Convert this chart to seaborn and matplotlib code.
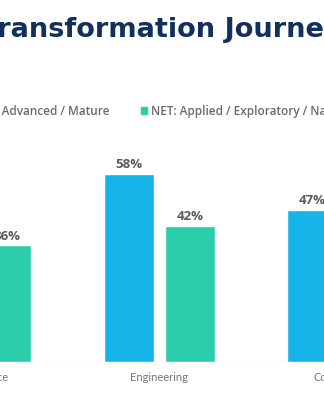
import matplotlib
matplotlib.use("Agg")
import matplotlib.pyplot as plt
import matplotlib.patches as mpatches
import pandas as pd
import seaborn as sns

# Survey shares by department (percent of respondents)
departments = ["Data Science", "Engineering", "Compliance"]
stages = ["NET: Advanced / Mature", "NET: Applied / Exploratory / Nascent"]
advanced_mature = [64, 58, 47]
applied_exploratory = [36, 42, 53]
title = "AI Transformation Journey"

colors = ["#17b4e9", "#2ccdab"]

sns.set_style("white")
plt.rcParams["font.family"] = ["DejaVu Sans"]

df = pd.DataFrame({
    "Department": departments * 2,
    "Stage": [stages[0]] * len(departments) + [stages[1]] * len(departments),
    "Share": advanced_mature + applied_exploratory,
})

W, H = 324, 400
fig = plt.figure(figsize=(W / 100, H / 100), dpi=100)

# category index i sits at pixel -23.8 + 183.2 * i; the plot area runs past the canvas
x0_px, step_px = -23.8, 183.2
left_px = x0_px - 0.5 * step_px
width_px = 3 * step_px
ax = fig.add_axes([left_px / W, 38 / H, width_px / W, 222 / H])

sns.barplot(data=df, x="Department", y="Share", hue="Stage",
            palette=colors, width=0.667, gap=0.19, legend=False,
            saturation=1, ax=ax, zorder=2)

ax.set_xlim(-0.5, 2.5)
ax.set_ylim(0, 68.5)
for s in ax.spines.values():
    s.set_visible(False)
ax.axhline(0, color="#dcdcdc", lw=1.0, zorder=1)
ax.set_yticks([])
ax.set_xlabel("")
ax.set_ylabel("")
ax.tick_params(axis="x", length=0, pad=7, labelsize=8, labelcolor="#747474")
for lbl in ax.get_xticklabels():
    lbl.set_fontfamily(["Lato", "DejaVu Sans"])

for cont, vals in zip(ax.containers, [advanced_mature, applied_exploratory]):
    ax.bar_label(cont, labels=[f"{v:.0f}%" for v in vals], padding=2,
                 fontsize=9.5, fontweight="bold", color="#5a5a5a",
                 fontfamily=["Open Sans", "DejaVu Sans"])

# Legend
handles = [mpatches.Patch(color=c) for c in colors]
leg = fig.legend(handles, stages, loc="center left", ncol=2,
                 bbox_to_anchor=(0, 1 - 111 / H), frameon=False,
                 handlelength=0.55, handleheight=0.55, handletextpad=0.3,
                 columnspacing=2.6, borderpad=0, borderaxespad=0,
                 prop={"family": ["Open Sans", "DejaVu Sans"], "weight": "semibold", "size": 8.5})
for t in leg.get_texts():
    t.set_color("#6a6a6a")

title_size = 19.6
ttl = fig.text(0, 1 - 30 / H, title, ha="left", va="center",
               fontsize=title_size, fontweight="bold", color="#13305a")

fig.canvas.draw()
r = fig.canvas.get_renderer()
# first legend entry's text ends at x=110px
x_end = leg.get_texts()[0].get_window_extent(r).x1
leg.set_bbox_to_anchor(((110 - x_end) / W, 1 - 111 / H), transform=fig.transFigure)
# "ransformation" begins at the left edge
pre = fig.text(0, 0, "AI T", fontsize=title_size, fontweight="bold")
w_pre = pre.get_window_extent(r).width
pre.remove()
ttl.set_x(-w_pre / W)

fig.savefig("out.png", dpi=100)
